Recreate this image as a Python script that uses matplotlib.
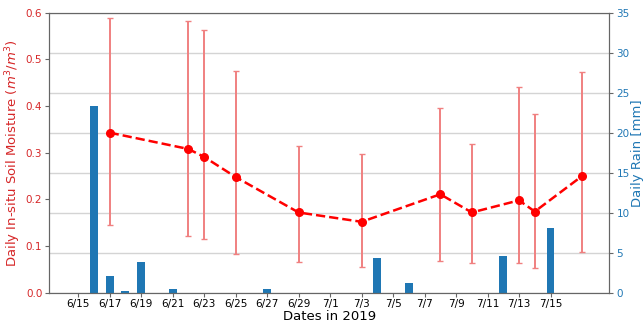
import matplotlib
matplotlib.use("Agg")
import matplotlib.pyplot as plt
import pandas as pd
import numpy as np

# Soil moisture (left axis)
sm_dates = ["2019-06-17", "2019-06-22", "2019-06-23", "2019-06-25", "2019-06-29",
            "2019-07-03", "2019-07-08", "2019-07-10", "2019-07-13", "2019-07-14", "2019-07-17"]
sm_mean = [0.343, 0.308, 0.291, 0.248, 0.172, 0.152, 0.211, 0.172, 0.198, 0.174, 0.250]
sm_low = [0.146, 0.122, 0.116, 0.084, 0.066, 0.056, 0.069, 0.063, 0.064, 0.052, 0.087]
sm_high = [0.588, 0.583, 0.564, 0.476, 0.315, 0.297, 0.396, 0.318, 0.441, 0.384, 0.473]

# Rain (right axis)
rain_dates = ["2019-06-16", "2019-06-17", "2019-06-18", "2019-06-19", "2019-06-21",
              "2019-06-27", "2019-07-04", "2019-07-06", "2019-07-12", "2019-07-15"]
rain_mm = [23.4, 2.1, 0.25, 3.8, 0.5, 0.5, 4.3, 1.25, 4.6, 8.1]

tick_dates = ["2019-06-15", "2019-06-17", "2019-06-19", "2019-06-21", "2019-06-23",
              "2019-06-25", "2019-06-27", "2019-06-29", "2019-07-01", "2019-07-03",
              "2019-07-05", "2019-07-07", "2019-07-09", "2019-07-11", "2019-07-13", "2019-07-15"]
tick_labels = ["6/15", "6/17", "6/19", "6/21", "6/23", "6/25", "6/27", "6/29", "7/1",
               "7/3", "7/5", "7/7", "7/9", "7/11", "7/13", "7/15"]

sm_x = pd.to_datetime(sm_dates)
rain_x = pd.to_datetime(rain_dates)
tick_x = pd.to_datetime(tick_dates)
mean = np.array(sm_mean)
yerr = [mean - np.array(sm_low), np.array(sm_high) - mean]

fig = plt.figure(figsize=(6.43, 3.26), dpi=100)
ax1 = fig.add_axes([0.0767, 0.102, 0.8703, 0.859])
ax2 = ax1.twinx()

spine_c = "0.4"
tick_fs = 7.5
label_fs = 9.5

# rain bars on right axis
ax2.bar(rain_x, rain_mm, width=0.5, color="#1f77b4", zorder=2)
ax2.set_ylim(0, 35)
ax2.set_yticks([0, 5, 10, 15, 20, 25, 30, 35])
ax2.yaxis.grid(True, color="0.83", lw=1)
ax2.set_axisbelow(True)
ax2.set_ylabel("Daily Rain [mm]", color="#1f77b4", fontsize=label_fs, labelpad=1)
ax2.tick_params(axis="y", colors="#1f77b4", labelsize=tick_fs, length=3, pad=2.5)
ax2.tick_params(axis="y", color=spine_c)

# soil moisture on left axis
ax1.set_zorder(ax2.get_zorder() + 1)
ax1.patch.set_visible(False)
ax1.errorbar(sm_x, mean, yerr=yerr, fmt="none", ecolor="#f08080", elinewidth=1.4,
             capsize=2.5, capthick=1.0, zorder=3)
ax1.plot(sm_x, mean, "--o", color="red", lw=1.8, markersize=5.5, zorder=4)
ax1.set_ylim(0, 0.6)
ax1.set_yticks([0, 0.1, 0.2, 0.3, 0.4, 0.5, 0.6])
ax1.set_ylabel("Daily In-situ Soil Moisture ($m^3/m^3$)", color="#d62728", fontsize=label_fs,
               labelpad=2)
ax1.tick_params(axis="y", colors="#d62728", labelsize=tick_fs, length=3, pad=2)
ax1.tick_params(axis="y", color=spine_c)

ax1.set_xlim(pd.Timestamp("2019-06-13 04:00"), pd.Timestamp("2019-07-18 17:00"))
ax1.set_xticks(tick_x)
ax1.set_xticklabels(tick_labels, fontsize=tick_fs)
ax1.tick_params(axis="x", color=spine_c, length=3, pad=1.5)
ax1.set_xlabel("Dates in 2019", fontsize=label_fs, labelpad=0.5)

for ax in (ax1, ax2):
    for s in ax.spines.values():
        s.set_color(spine_c)

fig.savefig("out.png", dpi=100)
